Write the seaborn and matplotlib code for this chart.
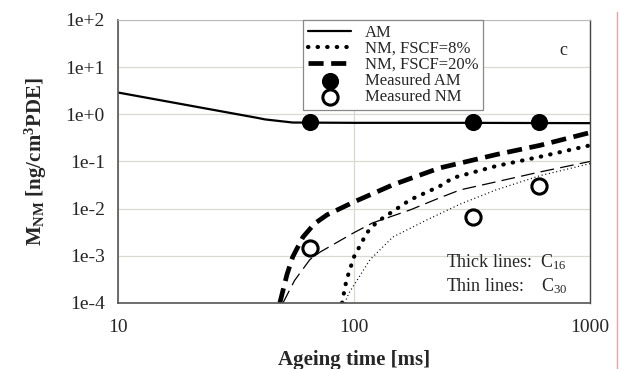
import numpy as np
import matplotlib
matplotlib.use("Agg")
import matplotlib.pyplot as plt
import matplotlib.ticker as mticker
from matplotlib.lines import Line2D
import seaborn as sns

# ageing time [ms] and concentrations
am_t = [10, 39, 42, 55, 100, 300, 1000]
am_y = [2.9, 0.84, 0.78, 0.67, 0.66, 0.66, 0.65]

nm20_c16_t = [48.5, 52, 55, 60.8, 68, 76.9, 100, 146, 231, 400, 614, 1000]
nm20_c16_y = [1e-4, 4e-4, 9.5e-4, 2.5e-3, 4.8e-3, 7.4e-3, 0.0139, 0.032, 0.073, 0.14, 0.22, 0.41]

nm8_c16_t = [89, 91, 93, 100, 113.5, 125, 173, 231, 263, 400, 614, 1000]
nm8_c16_y = [1e-4, 1.8e-4, 3.1e-4, 9.5e-4, 3.1e-3, 5.2e-3, 0.0154, 0.03, 0.045, 0.08, 0.126, 0.22]

nm20_c30_t = [50, 56, 65, 71.8, 100, 120, 173, 231, 282, 400, 614, 1000]
nm20_c30_y = [1e-4, 3e-4, 8.3e-4, 1.2e-3, 3.1e-3, 5e-3, 9.4e-3, 0.017, 0.025, 0.037, 0.06, 0.1]

nm8_c30_t = [91.6, 95, 100, 117, 146, 204, 282, 400, 614, 1000]
nm8_c30_y = [1e-4, 1.6e-4, 2.4e-4, 8.3e-4, 2.5e-3, 5.8e-3, 0.0125, 0.025, 0.05, 0.09]

meas_am_t = [65, 320, 610]
meas_am_y = [0.7, 0.7, 0.68]
meas_nm_t = [65, 320, 610]
meas_nm_y = [1.5e-3, 6.7e-3, 0.03]

y_ticks = [1e-4, 1e-3, 1e-2, 1e-1, 1e0, 1e1, 1e2]
y_ticklabels = ["1e-4", "1e-3", "1e-2", "1e-1", "1e+0", "1e+1", "1e+2"]
x_ticks = [10, 100, 1000]
x_ticklabels = ["10", "100", "1000"]


def main():
    sns.set_style("white")
    plt.rcParams["font.family"] = ["Liberation Serif", "DejaVu Serif"]
    plt.rcParams["mathtext.fontset"] = "custom"
    plt.rcParams["mathtext.rm"] = "Liberation Serif"
    plt.rcParams["mathtext.bf"] = "Liberation Serif:bold"
    plt.rcParams["mathtext.it"] = "Liberation Serif:italic"

    fig = plt.figure(figsize=(6.32, 3.69), dpi=100)
    ax = fig.add_axes([0.1867, 0.1789, 0.7468, 0.7669])

    sns.lineplot(x=am_t, y=am_y, ax=ax, color="black", linewidth=1.6, label="AM")
    sns.lineplot(x=nm8_c16_t, y=nm8_c16_y, ax=ax, color="black", linewidth=3.0,
                 label="NM, FSCF=8%")
    ax.lines[-1].set_dashes([0.1, 2.2])
    ax.lines[-1].set_dash_capstyle("round")
    sns.lineplot(x=nm20_c16_t, y=nm20_c16_y, ax=ax, color="black", linewidth=3.4,
                 label="NM, FSCF=20%")
    ax.lines[-1].set_dashes([3.2, 1.6])
    sns.lineplot(x=nm20_c30_t, y=nm20_c30_y, ax=ax, color="black", linewidth=0.9)
    ax.lines[-1].set_dashes([11, 5])
    sns.lineplot(x=nm8_c30_t, y=nm8_c30_y, ax=ax, color="black", linewidth=0.9)
    ax.lines[-1].set_dashes([0.8, 2.2])

    sns.scatterplot(x=meas_am_t, y=meas_am_y, ax=ax, color="black", s=130,
                    edgecolor="black", label="Measured AM", zorder=5)
    sns.scatterplot(x=meas_nm_t, y=meas_nm_y, ax=ax, facecolor="white", s=120,
                    edgecolor="black", linewidth=2.2, label="Measured NM", zorder=5)

    ax.set_xscale("log")
    ax.set_yscale("log")
    ax.set_xlim(10, 1000)
    ax.set_ylim(1e-4, 1e2)

    ax.set_yticks(y_ticks)
    ax.set_yticklabels(y_ticklabels)
    ax.set_xticks(x_ticks)
    ax.set_xticklabels(x_ticklabels)
    ax.yaxis.set_minor_locator(mticker.LogLocator(base=10, subs=np.arange(2, 10), numticks=20))
    ax.xaxis.set_minor_locator(mticker.LogLocator(base=10, subs=np.arange(2, 10), numticks=20))
    ax.yaxis.set_minor_formatter(mticker.NullFormatter())
    ax.xaxis.set_minor_formatter(mticker.NullFormatter())

    ax.tick_params(axis="both", which="major", direction="inout", length=7, width=0.9,
                   labelsize=14, color="#555555")
    ax.tick_params(axis="both", which="minor", direction="inout", length=5, width=0.8,
                   color="#555555")
    ax.tick_params(axis="x", which="major", pad=8)
    ax.tick_params(axis="y", which="major", pad=6)

    ax.grid(True, which="major", color="#d9d9d2", linewidth=0.9)
    ax.set_axisbelow(True)
    for side in ["left", "bottom"]:
        ax.spines[side].set_color("#555555")
        ax.spines[side].set_linewidth(1.2)
    ax.spines["top"].set_color("#bbbbbb")
    ax.spines["right"].set_color("#444444")
    ax.spines["right"].set_linewidth(1.0)

    ax.set_xlabel("Ageing time [ms]", fontsize=15, fontweight="bold", labelpad=10)
    ax.set_ylabel(r"M$_{\mathbf{NM}}$ [ng/cm$^{\mathbf{3}}$PDE]", fontsize=15,
                  fontweight="bold", labelpad=12)

    leg = ax.legend(loc="upper left", bbox_to_anchor=(0.392, 1.0), fontsize=12,
                    frameon=True, fancybox=False, edgecolor="#888888",
                    framealpha=1, handlelength=2.6, labelspacing=0.0,
                    borderpad=0.3, handletextpad=0.8, borderaxespad=0)
    leg.get_frame().set_linewidth(0.9)

    ax.text(0.935, 0.875, "c", transform=ax.transAxes, fontsize=13)
    ax.text(0.695, 0.125, r"Thick lines:  C$_{16}$", transform=ax.transAxes, fontsize=13)
    ax.text(0.695, 0.04, r"Thin lines:    C$_{30}$", transform=ax.transAxes, fontsize=13)

    # thin pink rule at the right of the picture
    fig.add_artist(Line2D([617 / 632, 617 / 632], [0, 1 - 12 / 369],
                          transform=fig.transFigure, color="#f2a0a0", linewidth=1.0))

    fig.savefig("out.png", dpi=100)
    plt.close(fig)


if __name__ == "__main__":
    main()
